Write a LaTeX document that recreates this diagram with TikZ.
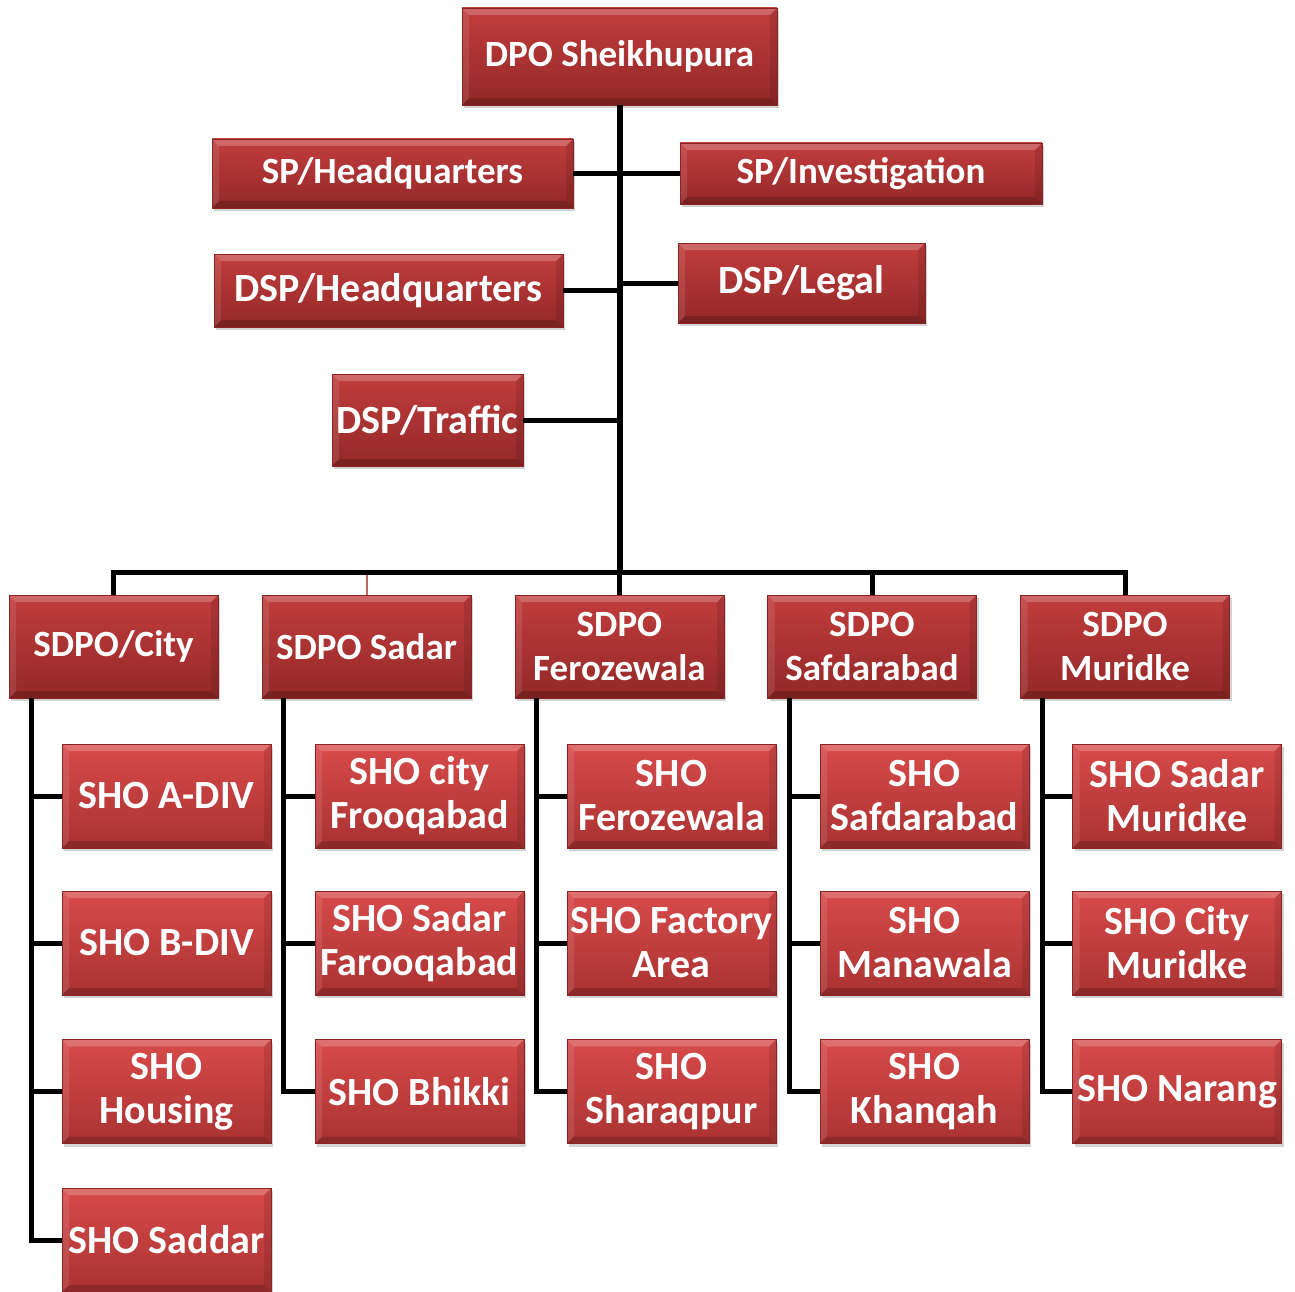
\documentclass[tikz,border=0pt]{standalone}
\usepackage{fontspec}
\setmainfont{Carlito}
\usetikzlibrary{shadows}
\definecolor{topA}{HTML}{C23D3D}
\definecolor{botA}{HTML}{942828}
\definecolor{topB}{HTML}{D84A4A}
\definecolor{botB}{HTML}{AA3232}
\definecolor{edgeR}{HTML}{8A2424}
\definecolor{thinR}{HTML}{C86464}
\tikzset{
  bevel/.style={path picture={
    \fill[white,opacity=0.22] (path picture bounding box.north west) -- (path picture bounding box.north east) -- ([xshift=-7pt,yshift=-7pt]path picture bounding box.north east) -- ([xshift=7pt,yshift=-7pt]path picture bounding box.north west) -- cycle;
    \fill[black,opacity=0.18] (path picture bounding box.south west) -- (path picture bounding box.south east) -- ([xshift=-7pt,yshift=7pt]path picture bounding box.south east) -- ([xshift=7pt,yshift=7pt]path picture bounding box.south west) -- cycle;
    \fill[white,opacity=0.10] (path picture bounding box.north west) -- (path picture bounding box.south west) -- ([xshift=7pt,yshift=7pt]path picture bounding box.south west) -- ([xshift=7pt,yshift=-7pt]path picture bounding box.north west) -- cycle;
    \fill[black,opacity=0.10] (path picture bounding box.north east) -- (path picture bounding box.south east) -- ([xshift=-7pt,yshift=7pt]path picture bounding box.south east) -- ([xshift=-7pt,yshift=-7pt]path picture bounding box.north east) -- cycle;
  }},
  box/.style={rectangle, draw=edgeR, line width=0.8pt, inner sep=0pt, align=center,
    text=white, font=\bfseries\fontsize{40}{44}\selectfont, bevel,
    drop shadow={opacity=0.35, shadow xshift=2pt, shadow yshift=-3pt}},
  boxA/.style={box, top color=topA, bottom color=botA},
  boxB/.style={box, top color=topB, bottom color=botB, minimum width=209pt, minimum height=104pt},
  sdpo/.style={boxA, minimum width=209pt, minimum height=103pt, font=\bfseries\fontsize{37}{44}\selectfont},
  conn/.style={draw=black, line width=5pt},
  trunk/.style={draw=black, line width=6pt},
}
\begin{document}
\begin{tikzpicture}[x=1pt,y=-1pt]
\useasboundingbox (0,0) rectangle (1295,1292);
% top level
\node[boxA, minimum width=315pt, minimum height=97pt, font=\bfseries\fontsize{37}{44}\selectfont] (dpo) at (619.5,56.5) {DPO Sheikhupura};
\node[boxA, minimum width=361pt, minimum height=69pt, font=\bfseries\fontsize{37}{44}\selectfont] (sphq) at (392.5,173.5) {SP/Headquarters};
\node[boxA, minimum width=362pt, minimum height=61pt, font=\bfseries\fontsize{37}{44}\selectfont] (spinv) at (861,173.5) {SP/Investigation};
\node[boxA, minimum width=349pt, minimum height=73pt] (dsphq) at (388.5,290.5) {DSP/Headquarters};
\node[boxA, minimum width=247pt, minimum height=80pt] (dsplegal) at (801.5,283) {DSP/Legal};
\node[boxA, minimum width=191pt, minimum height=92pt] (dsptraffic) at (427.5,420) {DSP/Traffic};
% SDPO row
\node[sdpo] (sdpoA) at (113.5,646.5) {SDPO/City};
\node[sdpo] (sdpoB) at (366.5,646.5) {SDPO Sadar};
\node[sdpo] (sdpoC) at (619.5,646.5) {SDPO\\Ferozewala};
\node[sdpo] (sdpoD) at (872,646.5) {SDPO\\Safdarabad};
\node[sdpo] (sdpoE) at (1125,646.5) {SDPO\\Muridke};
% SHO columns
\node[boxB] (shoA1) at (166.5,796) {SHO A-DIV};
\node[boxB] (shoA2) at (166.5,943) {SHO B-DIV};
\node[boxB] (shoA3) at (166.5,1091.5) {SHO\\Housing};
\node[boxB] (shoA4) at (166.5,1240) {SHO Saddar};
\node[boxB] (shoB1) at (419.5,796) {SHO city\\Frooqabad};
\node[boxB] (shoB2) at (419.5,943) {SHO Sadar\\Farooqabad};
\node[boxB] (shoB3) at (419.5,1091.5) {SHO Bhikki};
\node[boxB] (shoC1) at (671.5,796) {SHO\\Ferozewala};
\node[boxB] (shoC2) at (671.5,943) {SHO Factory\\Area};
\node[boxB] (shoC3) at (671.5,1091.5) {SHO\\Sharaqpur};
\node[boxB] (shoD1) at (924.5,796) {SHO\\Safdarabad};
\node[boxB] (shoD2) at (924.5,943) {SHO\\Manawala};
\node[boxB] (shoD3) at (924.5,1091.5) {SHO\\Khanqah};
\node[boxB] (shoE1) at (1177,796) {SHO Sadar\\Muridke};
\node[boxB] (shoE2) at (1177,943) {SHO City\\Muridke};
\node[boxB] (shoE3) at (1177,1091.5) {SHO Narang};
% connectors
\coordinate (bus) at (620,572.5);
\coordinate (sA) at ([xshift=23pt]sdpoA.south west);
\coordinate (sB) at ([xshift=22pt]sdpoB.south west);
\coordinate (sC) at ([xshift=22pt]sdpoC.south west);
\coordinate (sD) at ([xshift=22pt]sdpoD.south west);
\coordinate (sE) at ([xshift=22pt]sdpoE.south west);
\draw[trunk] (dpo.south) -- (dpo.south |- bus);
\draw[conn] (sphq.east) -- (sphq.east -| dpo.south);
\draw[conn] (spinv.west) -- (spinv.west -| dpo.south);
\draw[conn] (dsphq.east) -- (dsphq.east -| dpo.south);
\draw[conn] (dsplegal.west) -- (dsplegal.west -| dpo.south);
\draw[conn] (dsptraffic.east) -- (dsptraffic.east -| dpo.south);
\draw[conn] (sdpoA.north) -- (sdpoA.north |- bus) -| (sdpoE.north);
\draw[conn] (sdpoC.north) -- (sdpoC.north |- bus);
\draw[conn] (sdpoD.north) -- (sdpoD.north |- bus);
\draw[draw=thinR, line width=2pt] (sdpoB.north) -- ([yshift=-2.5pt]sdpoB.north |- bus);
\draw[conn] (sA) |- (shoA4.west);
\draw[conn] (shoA1.west) -- (shoA1.west -| sA);
\draw[conn] (shoA2.west) -- (shoA2.west -| sA);
\draw[conn] (shoA3.west) -- (shoA3.west -| sA);
\draw[conn] (sB) |- (shoB3.west);
\draw[conn] (shoB1.west) -- (shoB1.west -| sB);
\draw[conn] (shoB2.west) -- (shoB2.west -| sB);
\draw[conn] (sC) |- (shoC3.west);
\draw[conn] (shoC1.west) -- (shoC1.west -| sC);
\draw[conn] (shoC2.west) -- (shoC2.west -| sC);
\draw[conn] (sD) |- (shoD3.west);
\draw[conn] (shoD1.west) -- (shoD1.west -| sD);
\draw[conn] (shoD2.west) -- (shoD2.west -| sD);
\draw[conn] (sE) |- (shoE3.west);
\draw[conn] (shoE1.west) -- (shoE1.west -| sE);
\draw[conn] (shoE2.west) -- (shoE2.west -| sE);
\end{tikzpicture}
\end{document}
